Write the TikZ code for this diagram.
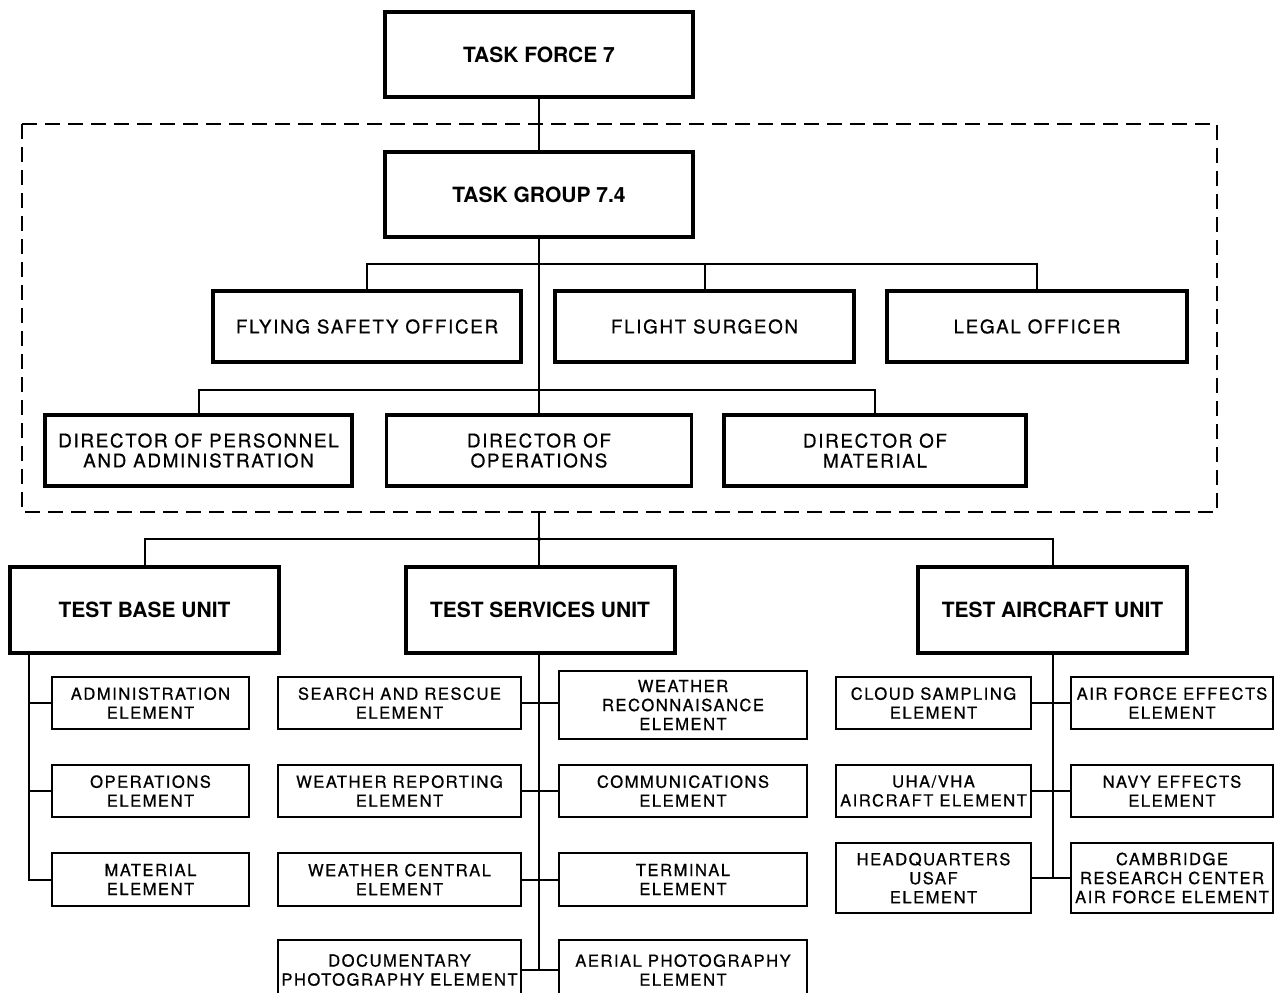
\documentclass[tikz,border=0pt]{standalone}
\usepackage{fontspec}
\setmainfont{TeX Gyre Heros}
\newfontfamily\spacedfont[LetterSpace=9, FakeBold=0.7]{TeX Gyre Heros}
\newcommand{\unitfont}{\fontsize{21}{23}\selectfont\bfseries}
\newcommand{\offfont}{\spacedfont\fontsize{18.8}{20}\selectfont}
\newcommand{\elemfont}{\spacedfont\fontsize{16.6}{19}\selectfont}
\usetikzlibrary{calc}

\begin{document}
\begin{tikzpicture}[x=1pt, y=-1pt,
    topbox/.style = {draw, line width=4pt, inner sep=0pt, align=center, font=\unitfont},
    offbox/.style = {draw, line width=3.5pt, inner sep=0pt, align=center, minimum height=71pt, font=\offfont},
    elembox/.style = {draw, line width=2.6pt, inner sep=0pt, align=center, font=\elemfont},
    link/.style = {line width=2pt}]
    % Cornice
    \useasboundingbox (0,0) rectangle (1275,993);
    \clip (0,0) rectangle (1275,993);
    \draw[link, dash pattern=on 15pt off 8pt] (22,124) rectangle (1217,512);

    % Comando
    \node[topbox, minimum width=308pt, minimum height=85pt] (tf) at (539,54.5) {TASK FORCE 7};
    \node[topbox, minimum width=308pt, minimum height=85pt] (tg) at (539,194.5) {TASK GROUP 7.4};

    % Ufficiali e direttori
    \node[offbox, minimum width=308pt] (fso) at (367,326.5) {FLYING SAFETY OFFICER};
    \node[offbox, minimum width=299pt] (fs) at (704.5,326.5) {FLIGHT SURGEON};
    \node[offbox, minimum width=300pt] (lo) at (1037,326.5) {LEGAL OFFICER};
    \node[offbox, minimum width=307pt] (dpa) at (198.5,450.5) {DIRECTOR OF PERSONNEL\\AND ADMINISTRATION};
    \node[offbox, minimum width=305pt] (dop) at (539,450.5) {DIRECTOR OF\\OPERATIONS};
    \node[offbox, minimum width=302pt] (dmat) at (875,450.5) {DIRECTOR OF\\MATERIAL};

    % Unita'
    \node[topbox, minimum width=269pt, minimum height=86pt] (tbu) at (144.5,610) {TEST BASE UNIT};
    \node[topbox, minimum width=269pt, minimum height=86pt] (tsu) at (540,610) {TEST SERVICES UNIT};
    \node[topbox, minimum width=269pt, minimum height=86pt] (tau) at (1052.5,610) {TEST AIRCRAFT UNIT};

    % Elementi base
    \node[elembox, minimum width=197pt, minimum height=52pt] (adm) at (150.5,703) {ADMINISTRATION\\ELEMENT};
    \node[elembox, minimum width=197pt, minimum height=52pt] (ops) at (150.5,791) {OPERATIONS\\ELEMENT};
    \node[elembox, minimum width=197pt, minimum height=53pt] (mat) at (150.5,879.5) {MATERIAL\\ELEMENT};

    % Elementi servizi
    \node[elembox, minimum width=243pt, minimum height=52pt] (sar) at (399.5,703) {SEARCH AND RESCUE\\ELEMENT};
    \node[elembox, minimum width=243pt, minimum height=52pt] (wrep) at (399.5,791) {WEATHER REPORTING\\ELEMENT};
    \node[elembox, minimum width=243pt, minimum height=53pt] (wcen) at (399.5,879.5) {WEATHER CENTRAL\\ELEMENT};
    \node[elembox, minimum width=243pt, minimum height=60pt] (doc) at (399.5,970) {DOCUMENTARY\\PHOTOGRAPHY ELEMENT};
    \node[elembox, minimum width=248pt, minimum height=68pt] (wrec) at (683,705) {WEATHER\\RECONNAISANCE\\ELEMENT};
    \node[elembox, minimum width=248pt, minimum height=52pt] (comm) at (683,791) {COMMUNICATIONS\\ELEMENT};
    \node[elembox, minimum width=248pt, minimum height=53pt] (term) at (683,879.5) {TERMINAL\\ELEMENT};
    \node[elembox, minimum width=248pt, minimum height=60pt] (aer) at (683,970) {AERIAL PHOTOGRAPHY\\ELEMENT};

    % Elementi aerei
    \node[elembox, minimum width=195pt, minimum height=52pt] (cs) at (933.5,703) {CLOUD SAMPLING\\ELEMENT};
    \node[elembox, minimum width=195pt, minimum height=52pt] (uha) at (933.5,791) {UHA/VHA\\AIRCRAFT ELEMENT};
    \node[elembox, minimum width=195pt, minimum height=70pt] (hq) at (933.5,878) {HEADQUARTERS\\USAF\\ELEMENT};
    \node[elembox, minimum width=202pt, minimum height=52pt] (afe) at (1172,703) {AIR FORCE EFFECTS\\ELEMENT};
    \node[elembox, minimum width=202pt, minimum height=52pt] (navy) at (1172,791) {NAVY EFFECTS\\ELEMENT};
    \node[elembox, minimum width=202pt, minimum height=70pt] (camb) at (1172,878) {CAMBRIDGE\\RESEARCH CENTER\\AIR FORCE ELEMENT};

    % Collegamenti
    \coordinate (obus) at (539,264);
    \coordinate (dbus) at (539,390);
    \coordinate (fbot) at (539,512);
    \coordinate (ubus) at (539,539);
    \draw[link] (tf) -- (tg);
    \draw[link] (tg.south) -- (dop.north);
    \draw[link] (fso.north) |- (obus) -| (lo.north);
    \draw[link] (fs.north) -- (fs.north |- obus);
    \draw[link] (dpa.north) |- (dbus) -| (dmat.north);
    \draw[link] (fbot) -- (ubus);
    \draw[link] (tbu.north) |- (ubus) -| (tau.north);
    \draw[link] (ubus) -- (ubus |- tsu.north);
    \fill (ubus) circle (2pt);

    \draw[link] ([xshift=21pt]tbu.south west) |- (mat.west);
    \draw[link] (adm.west) -- ++(-21,0);
    \draw[link] (ops.west) -- ++(-21,0);

    \draw[link] (tsu.south -| ubus) -- (ubus |- aer.west);
    \draw[link] (sar.east) -- (sar.east -| wrec.west);
    \draw[link] (wrep.east) -- (comm.west);
    \draw[link] (wcen.east) -- (term.west);
    \draw[link] (doc.east) -- (aer.west);

    \draw[link] (tau.south) -- (tau.south |- hq.east);
    \draw[link] (cs.east) -- (afe.west);
    \draw[link] (uha.east) -- (navy.west);
    \draw[link] (hq.east) -- (camb.west);
\end{tikzpicture}
\end{document}
